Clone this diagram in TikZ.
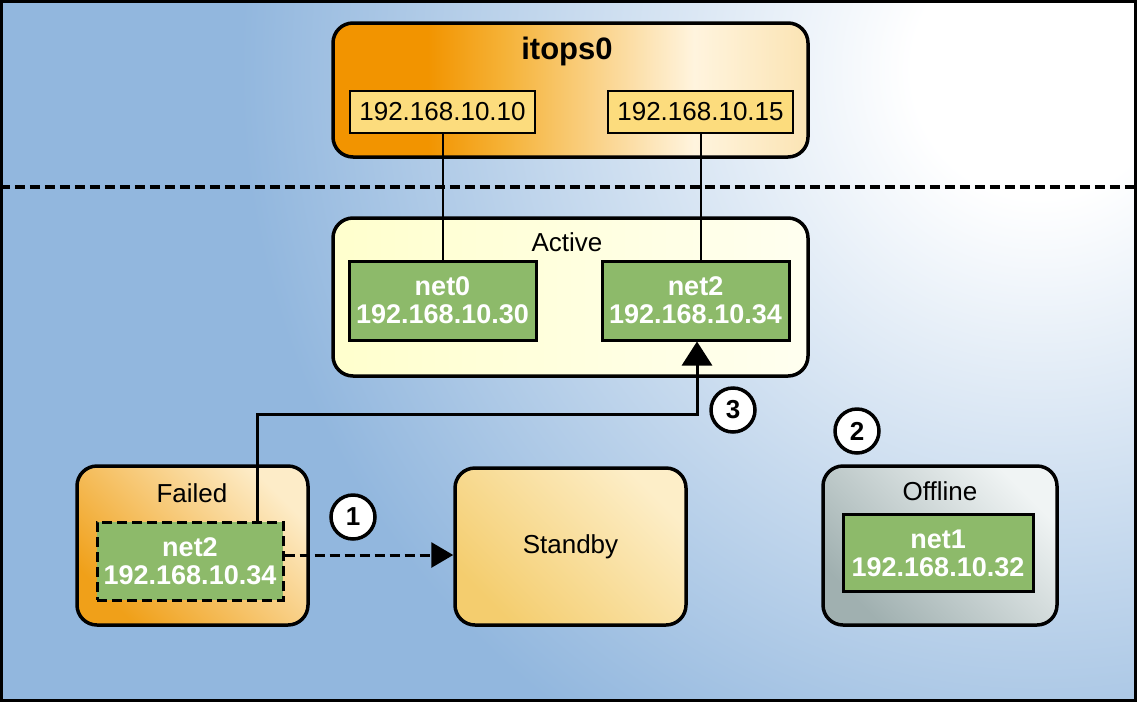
\documentclass[tikz,border=0pt]{standalone}
\usepackage{fontspec}
\setmainfont{Liberation Sans}
\usetikzlibrary{arrows.meta,calc}
\definecolor{bgblue}{RGB}{146,183,222}
\definecolor{orangec}{RGB}{242,148,0}
\definecolor{orangemid}{RGB}{245,178,55}
\definecolor{creamc}{RGB}{255,244,222}
\definecolor{creamr}{RGB}{251,228,180}
\definecolor{ipfill}{RGB}{252,220,125}
\definecolor{netgreen}{RGB}{141,186,106}
\definecolor{activel}{RGB}{255,255,205}
\definecolor{activer}{RGB}{255,255,240}
\definecolor{failbl}{RGB}{240,160,25}
\definecolor{failtr}{RGB}{253,236,200}
\definecolor{standbl}{RGB}{244,205,110}
\definecolor{standtr}{RGB}{253,238,200}
\definecolor{offbl}{RGB}{160,176,176}
\definecolor{offtr}{RGB}{240,244,244}
\pgfdeclareradialshading{glow}{\pgfpoint{0bp}{0bp}}{color(0bp)=(white); color(4bp)=(white); color(25bp)=(bgblue); color(50bp)=(bgblue)}
\pgfdeclarehorizontalshading{itopsshade}{100bp}{color(0bp)=(orangec); color(35bp)=(orangec); color(43bp)=(orangemid); color(63bp)=(creamc); color(75bp)=(creamr); color(100bp)=(creamr)}
\tikzset{
  bigbox/.style={draw, line width=3.5pt, rounded corners=20pt, inner sep=0pt},
  ipbox/.style={draw, line width=2pt, fill=ipfill, minimum width=185pt, minimum height=42pt, inner sep=0pt, font=\fontsize{26}{28}\selectfont},
  netbox/.style={draw, line width=3pt, fill=netgreen, text=white, align=center, minimum width=187pt, minimum height=79pt, inner sep=0pt, font=\bfseries\fontsize{27}{28}\selectfont},
  boxlabel/.style={anchor=base, inner sep=0pt, font=\fontsize{26}{28}\selectfont},
  stepnum/.style={circle, draw, line width=3.5pt, fill=white, minimum size=44pt, inner sep=0pt, font=\bfseries\fontsize{26}{28}\selectfont},
  thinline/.style={line width=2pt},
  arrowline/.style={line width=3pt, -{Triangle[length=24pt,width=30pt]}},
  dasharrow/.style={line width=3pt, dash pattern=on 10pt off 5pt, -{Triangle[length=22pt,width=25pt]}},
  dashsep/.style={line width=3.5pt, dash pattern=on 10pt off 5pt}
}
\begin{document}
\begin{tikzpicture}[x=1pt,y=-1pt]
\useasboundingbox (0,0) rectangle (1137,702);
% background
\fill[bgblue] (1.5,1.5) rectangle (1135.5,700.5);
\begin{scope}
\clip (1.5,1.5) rectangle (1135.5,700.5);
\shade[shading=glow] (1040,70) circle (800);
\end{scope}
\node[draw, line width=3.5pt, minimum width=1134pt, minimum height=699pt, inner sep=0pt] (frame) at (568.5,351) {};
\coordinate (sepy) at (0,187);
\draw[dashsep] (frame.west |- sepy) -- (frame.east |- sepy);

% itops0
\node[bigbox, shading=itopsshade, minimum width=475pt, minimum height=134pt] (itops) at (570.5,90) {};
\node[anchor=base, inner sep=0pt, font=\bfseries\fontsize{31}{34}\selectfont] (itopslbl) at (567,59) {itops0};
\node[ipbox] (ip1) at (442.5,112) {192.168.10.10};
\node[ipbox] (ip2) at (700.5,112) {192.168.10.15};

% Active
\node[bigbox, left color=activel, right color=activer, minimum width=475pt, minimum height=158pt] (active) at (570.5,297) {};
\node[boxlabel] (activelbl) at (567,251) {Active};
\node[netbox] (net0) at (442.5,300.5) {net0\\192.168.10.30};
\node[netbox] (net2a) at (695.5,300.5) {net2\\192.168.10.34};

% Failed
\node[bigbox, top color=failtr, bottom color=failbl, shading angle=-45, minimum width=231pt, minimum height=159pt] (failed) at (192.5,545.5) {};
\node[boxlabel] (failedlbl) at (192,502) {Failed};
\node[netbox, dash pattern=on 10pt off 5pt, minimum width=186pt, minimum height=78pt] (netf) at (190,561) {net2\\192.168.10.34};

% Standby
\node[bigbox, top color=standtr, bottom color=standbl, shading angle=-45, minimum width=231pt, minimum height=157pt, font=\fontsize{26}{28}\selectfont] (standby) at (570.5,546.5) {Standby};

% Offline
\node[bigbox, top color=offtr, bottom color=offbl, shading angle=-45, minimum width=234pt, minimum height=159pt] (offline) at (940,545.5) {};
\node[boxlabel] (offlinelbl) at (940,500) {Offline};
\node[netbox, minimum width=190pt, minimum height=77pt] (net1) at (938,553) {net1\\192.168.10.32};

% connectors
\draw[thinline] (ip1.south) -- (ip1.south |- net0.north);
\draw[thinline] (ip2.south) -- (ip2.south |- net2a.north);
\coordinate (turn) at (257,414);
\coordinate (rise) at (697,414);
\draw[arrowline] (turn |- netf.north) -- (turn) -- (rise) -- (rise |- net2a.south);
\coordinate (dashy) at (0,555);
\draw[dasharrow] (netf.east |- dashy) -- (standby.west |- dashy);

% step numbers
\node[stepnum] (s1) at (353,517) {1};
\node[stepnum] (s2) at (857,431) {2};
\node[stepnum] (s3) at (733,410) {3};
\end{tikzpicture}
\end{document}
